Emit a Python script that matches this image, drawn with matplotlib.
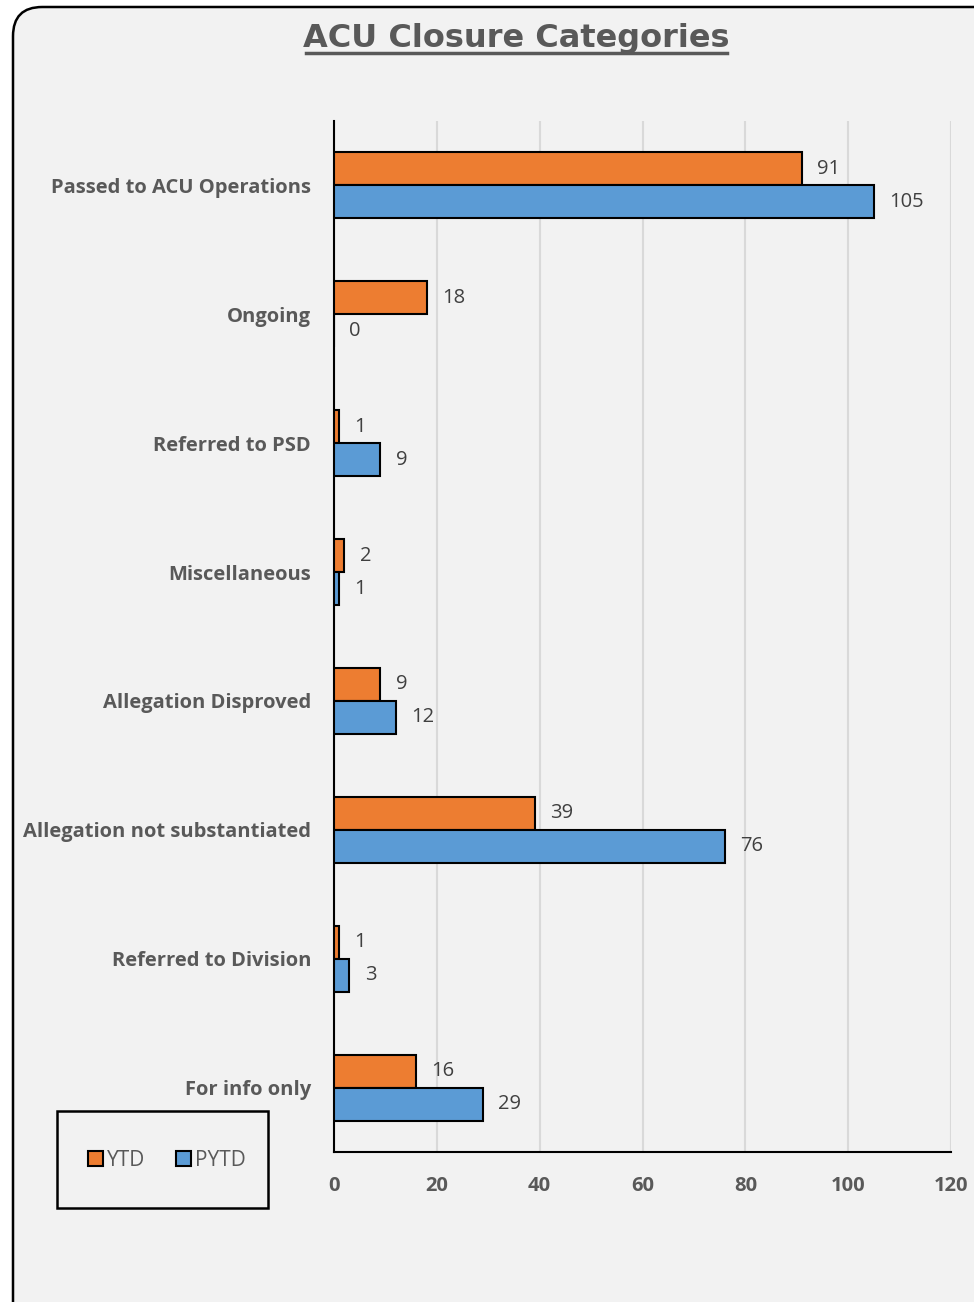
import matplotlib.pyplot as plt
import numpy as np
from matplotlib.patches import FancyBboxPatch, Rectangle

categories = ["Passed to ACU Operations", "Ongoing", "Referred to PSD", "Miscellaneous",
              "Allegation Disproved", "Allegation not substantiated", "Referred to Division",
              "For info only"]
ytd = [91, 18, 1, 2, 9, 39, 1, 16]
pytd = [105, 0, 9, 1, 12, 76, 3, 29]
xticks = [0, 20, 40, 60, 80, 100, 120]

orange = "#ED7D31"
blue = "#5B9BD5"
grey = "#595959"

fig = plt.figure(figsize=(9.74, 13.02), dpi=100)
fig.patch.set_facecolor("white")

# rounded panel behind the chart
panel = FancyBboxPatch((13 / 974, -0.2), 1.2, 1.2 - 7 / 1302,
                       boxstyle="round,pad=0,rounding_size=0.03",
                       transform=fig.transFigure, facecolor="#f2f2f2",
                       edgecolor="black", linewidth=1.8, mutation_aspect=974 / 1302,
                       zorder=-10)
fig.patches.append(panel)

ax = fig.add_axes([334 / 974, 1 - 1152 / 1302, 617 / 974, 1031 / 1302])
ax.set_facecolor("none")

y = np.arange(len(categories))
h = 0.256
ax.barh(y - h / 2, ytd, height=h, color=orange, edgecolor="black", linewidth=1.5,
        label="YTD", zorder=3)
ax.barh(y + h / 2, pytd, height=h, color=blue, edgecolor="black", linewidth=1.5,
        label="PYTD", zorder=3)

for yi, a, b in zip(y, ytd, pytd):
    ax.annotate(str(a), (a, yi - h / 2), xytext=(11, 0), textcoords="offset points",
                va="center", ha="left", fontsize=14.5, color="#404040", family="Open Sans")
    ax.annotate(str(b), (b, yi + h / 2), xytext=(11, 0), textcoords="offset points",
                va="center", ha="left", fontsize=14.5, color="#404040", family="Open Sans")

ax.set_xlim(0, 120)
ax.set_ylim(len(categories) - 0.5, -0.5)
ax.set_xticks(xticks)
ax.set_yticks(y)
ax.set_yticklabels(categories)
for lbl in ax.get_yticklabels() + ax.get_xticklabels():
    lbl.set_fontweight("bold")
    lbl.set_fontsize(14.5)
    lbl.set_color(grey)
    lbl.set_family("Open Sans")
ax.tick_params(axis="y", length=0, pad=16.5)
ax.tick_params(axis="x", length=0, pad=17)

ax.grid(axis="x", color="#d9d9d9", linewidth=1.5, zorder=0)
for side in ["top", "right"]:
    ax.spines[side].set_visible(False)
ax.spines["left"].set_linewidth(1.5)
ax.spines["bottom"].set_linewidth(1.5)

fig.text(516.5 / 974, 1 - 39 / 1302, "ACU Closure Categories", ha="center", va="center",
         fontsize=23, fontweight="bold", color=grey, family="DejaVu Sans")
fig.add_artist(plt.Line2D([306 / 974, 727 / 974], [1 - 53 / 1302] * 2,
                          color=grey, linewidth=2.5))

# legend box below left
fig.patches.append(Rectangle((57 / 974, 1 - 1208 / 1302), 211 / 974, 97 / 1302,
                             transform=fig.transFigure, facecolor="none",
                             edgecolor="black", linewidth=1.8))
leg = fig.legend(loc="center", bbox_to_anchor=(167 / 974, 1 - 1160 / 1302), ncol=2,
                 frameon=False, prop={"family": "Open Sans", "size": 15},
                 handlelength=0.7, handleheight=0.7, handletextpad=0.2,
                 columnspacing=1.5)
for t in leg.get_texts():
    t.set_color(grey)

fig.savefig("out.png", dpi=100)
